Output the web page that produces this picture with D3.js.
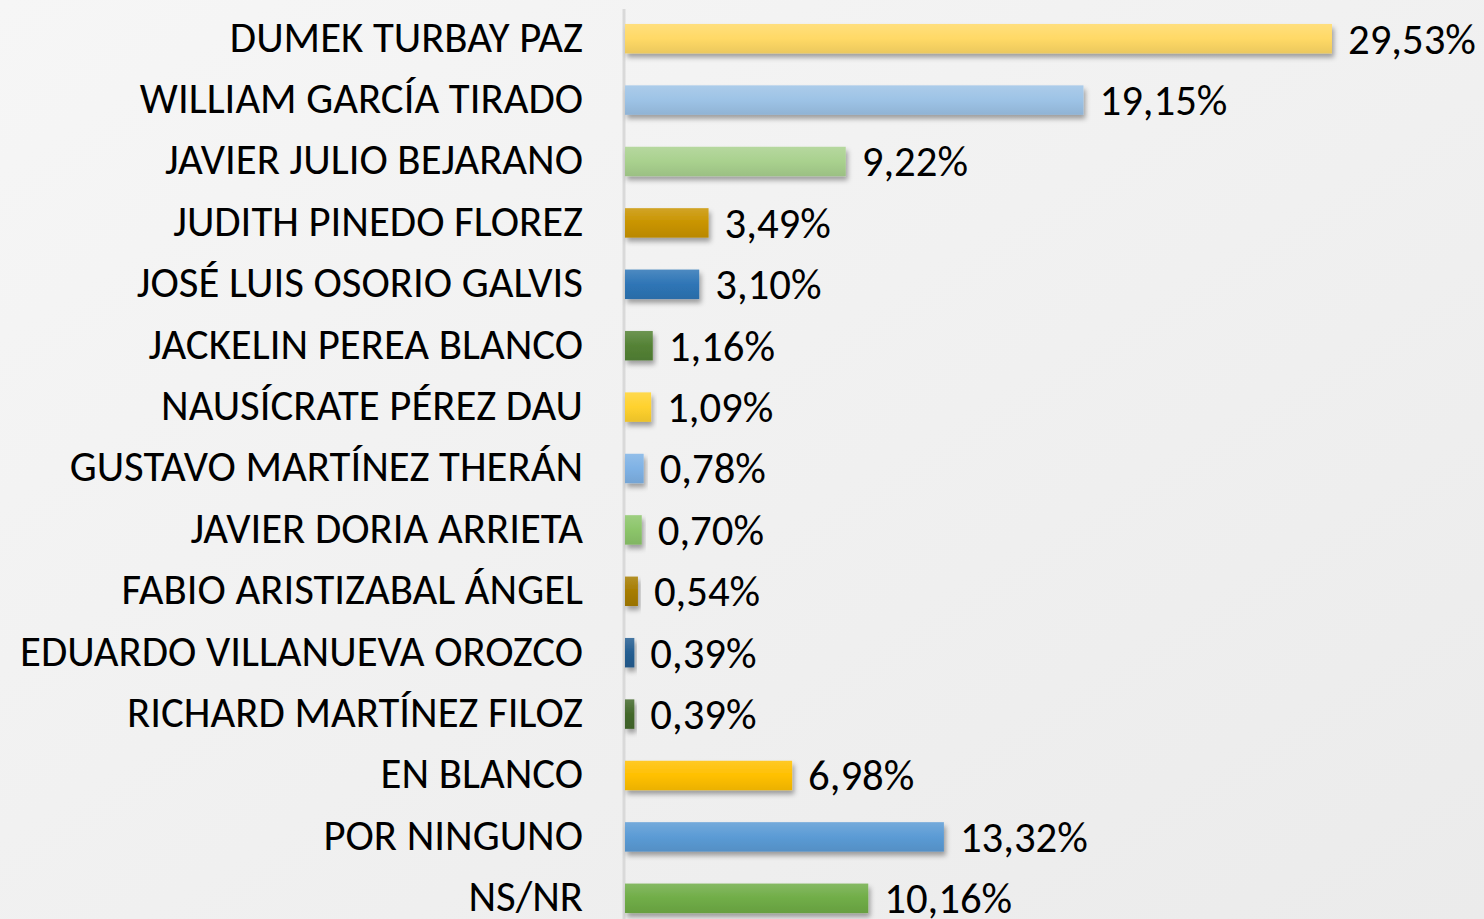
<!DOCTYPE html>
<html>
<head>
<meta charset="utf-8">
<script src="https://cdn.jsdelivr.net/npm/d3@7"></script>
<style>
  html, body { margin: 0; padding: 0; }
  body { width: 1484px; height: 919px; overflow: hidden; }
  svg text { font-family: Calibri, Carlito, Lato, "Open Sans", sans-serif; fill: #000; }
</style>
</head>
<body>
<div id="chart"></div>
<script>
// candidates, top to bottom
const candidates = [
  "DUMEK TURBAY PAZ", "WILLIAM GARCÍA TIRADO", "JAVIER JULIO BEJARANO",
  "JUDITH PINEDO FLOREZ", "JOSÉ LUIS OSORIO GALVIS", "JACKELIN PEREA BLANCO",
  "NAUSÍCRATE PÉREZ DAU", "GUSTAVO MARTÍNEZ THERÁN", "JAVIER DORIA ARRIETA",
  "FABIO ARISTIZABAL ÁNGEL", "EDUARDO VILLANUEVA OROZCO", "RICHARD MARTÍNEZ FILOZ",
  "EN BLANCO", "POR NINGUNO", "NS/NR"
];
const percentages = [29.53, 19.15, 9.22, 3.49, 3.10, 1.16, 1.09, 0.78, 0.70, 0.54, 0.39, 0.39, 6.98, 13.32, 10.16];
const barColors = [
  "#FFD966", "#9DC3E6", "#A9D18E", "#C99400", "#2E75B6", "#548235",
  "#FFD22E", "#7FB2E5", "#8CC56A", "#A67C00", "#255E91", "#43682B",
  "#FFC000", "#5B9BD5", "#70AD47"
];

const width = 1484, height = 919;
const axisX = 624;

const svg = d3.select("#chart").append("svg")
  .attr("width", width).attr("height", height);

const defs = svg.append("defs");

// background, slightly darker towards bottom right
const bg = defs.append("linearGradient").attr("id", "bg")
  .attr("x1", 0).attr("y1", 0).attr("x2", 1).attr("y2", 1);
bg.append("stop").attr("offset", 0).attr("stop-color", "#f6f6f6");
bg.append("stop").attr("offset", 1).attr("stop-color", "#ebebeb");
svg.append("rect").attr("width", width).attr("height", height).attr("fill", "url(#bg)");

const shadow = defs.append("filter").attr("id", "shadow")
  .attr("x", "-10%").attr("y", "-30%").attr("width", "130%").attr("height", "180%");
shadow.append("feDropShadow").attr("dx", 2).attr("dy", 4).attr("stdDeviation", 2.5)
  .attr("flood-color", "#000").attr("flood-opacity", 0.35);

barColors.forEach((c, i) => {
  const g = defs.append("linearGradient").attr("id", "grad" + i)
    .attr("x1", 0).attr("y1", 0).attr("x2", 0).attr("y2", 1);
  g.append("stop").attr("offset", 0).attr("stop-color", d3.interpolateRgb(c, "#fff")(0.15));
  g.append("stop").attr("offset", 0.5).attr("stop-color", c);
  g.append("stop").attr("offset", 1).attr("stop-color", d3.interpolateRgb(c, "#000")(0.08));
});

const x = d3.scaleLinear().domain([0, 29.53]).range([axisX + 1, 1332]);
const y = d3.scaleBand().domain(candidates).range([8, 929]).paddingInner(0.52).paddingOuter(0.26);

// axis line
svg.append("line")
  .attr("x1", axisX).attr("x2", axisX).attr("y1", 9).attr("y2", height)
  .attr("stroke", "#d9d9d9").attr("stroke-width", 3);

const rows = svg.selectAll("g.row")
  .data(candidates.map((name, i) => ({ name, value: percentages[i], i })))
  .enter().append("g").attr("class", "row");

rows.append("rect")
  .attr("x", x(0))
  .attr("y", d => y(d.name))
  .attr("width", d => x(d.value) - x(0))
  .attr("height", y.bandwidth())
  .attr("fill", d => "url(#grad" + d.i + ")")
  .attr("filter", "url(#shadow)");

rows.append("text")
  .attr("x", 583)
  .attr("y", d => y(d.name) + y.bandwidth() / 2 - 2)
  .attr("dy", "0.35em")
  .attr("text-anchor", "end")
  .attr("font-size", 36)
  .text(d => d.name);

rows.append("text")
  .attr("x", d => x(d.value) + 16)
  .attr("y", d => y(d.name) + y.bandwidth() / 2)
  .attr("dy", "0.35em")
  .attr("font-size", 36)
  .text(d => d.value.toFixed(2).replace(".", ",") + "%");

// fit label widths to the reference (longest label spans ~563px)
const labels = rows.selectAll("text");
let maxW = 0;
rows.select("text").each(function () { maxW = Math.max(maxW, this.getComputedTextLength()); });
const k = 563 / maxW;
labels.attr("font-size", 36 * k);
</script>
</body>
</html>
